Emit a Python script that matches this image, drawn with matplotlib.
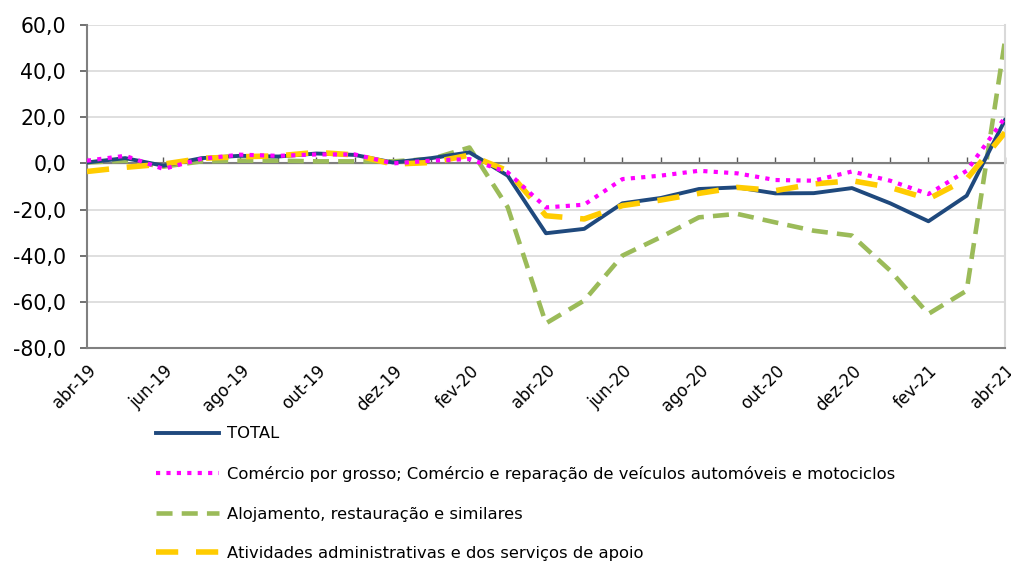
import matplotlib
matplotlib.use("Agg")
import matplotlib.pyplot as plt
import numpy as np

# months abr-19 .. abr-21
months = ["abr-19", "mai-19", "jun-19", "jul-19", "ago-19", "set-19", "out-19", "nov-19",
          "dez-19", "jan-20", "fev-20", "mar-20", "abr-20", "mai-20", "jun-20", "jul-20",
          "ago-20", "set-20", "out-20", "nov-20", "dez-20", "jan-21", "fev-21", "mar-21", "abr-21"]

total = [0.4, 2.3, -1.0, 2.3, 3.3, 3.0, 4.3, 3.7, 0.4, 2.3, 4.8, -5.3, -30.3,
         -28.4, -17.3, -15.0, -11.1, -10.4, -13.0, -12.9, -10.7, -17.3, -25.1, -14.0, 18.8]
comercio = [1.2, 3.3, -2.4, 2.0, 3.8, 3.3, 3.9, 3.9, 0.0, 1.2, 1.9, -3.9, -19.1,
            -17.9, -6.8, -5.3, -3.2, -4.3, -7.2, -7.5, -3.5, -7.5, -13.3, -3.2, 19.9]
alojamento = [0.4, 1.2, -1.4, 0.9, 1.2, 1.2, 0.9, 0.9, 0.9, 1.9, 6.9, -19.0, -69.4,
              -59.5, -40.0, -32.0, -23.4, -21.9, -25.6, -29.2, -31.3, -46.5, -65.3, -55.2, 53.2]
atividades = [-3.5, -1.7, -0.3, 2.2, 2.9, 3.3, 4.8, 3.7, -0.3, 0.4, 3.6, -3.2, -22.7,
              -24.1, -18.3, -15.9, -13.0, -10.4, -11.8, -8.9, -7.5, -10.4, -15.4, -6.8, 13.4]

labels = ["TOTAL",
          "Comércio por grosso; Comércio e reparação de veículos automóveis e motociclos",
          "Alojamento, restauração e similares",
          "Atividades administrativas e dos serviços de apoio"]

x = np.arange(len(months))

fig = plt.figure(figsize=(10.11, 5.72), dpi=100)
ax = fig.add_axes([0.086, 0.392, 0.908, 0.564])

ax.plot(x, total, color="#1F497D", lw=2.8, label=labels[0], zorder=3)
ax.plot(x, comercio, color="#FF00FF", lw=3, linestyle=(0, (1, 1.5)), label=labels[1], zorder=4)
ax.plot(x, alojamento, color="#9BBB59", lw=3.3, linestyle=(0, (3.5, 2)), label=labels[2], zorder=2)
ax.plot(x, atividades, color="#FFCC00", lw=4, linestyle=(0, (4, 3.2)), label=labels[3], zorder=3)

ax.set_xlim(0, len(months) - 1)
ax.set_ylim(-80, 60)
ax.set_yticks(np.arange(-80, 61, 20))
ax.set_yticklabels([f"{v:.1f}".replace(".", ",") for v in np.arange(-80, 61, 20)], fontsize=14.8)
ax.yaxis.grid(True, color="#D9D9D9", lw=1.2)
ax.set_axisbelow(True)
ax.tick_params(axis="y", length=5, color="#595959", width=1.2, pad=10)

ax.set_xticks(x[::2])
ax.set_xticklabels(months[::2], rotation=45, ha="right", rotation_mode="anchor", fontsize=12)
ax.tick_params(axis="x", length=0, pad=10)

# axis line at zero with monthly ticks
ax.axhline(0, color="#7F7F7F", lw=1.5, zorder=1)
sec = ax.secondary_xaxis(80 / 140)
sec.set_xticks(x)
sec.set_xticklabels([])
sec.tick_params(length=4, color="#595959", width=1)
sec.spines["bottom"].set_visible(False)

for s in ["left", "bottom", "right", "top"]:
    ax.spines[s].set_color("#808080")
    ax.spines[s].set_linewidth(1.5)
ax.spines["top"].set_visible(False)
ax.spines["right"].set_color("#D9D9D9")

fig.legend(loc="upper left", bbox_to_anchor=(0.148, 0.266), frameon=False, fontsize=11.8,
           handlelength=3.85, handletextpad=0.45, labelspacing=1.5, borderaxespad=0)

fig.savefig("out.png", dpi=100)
